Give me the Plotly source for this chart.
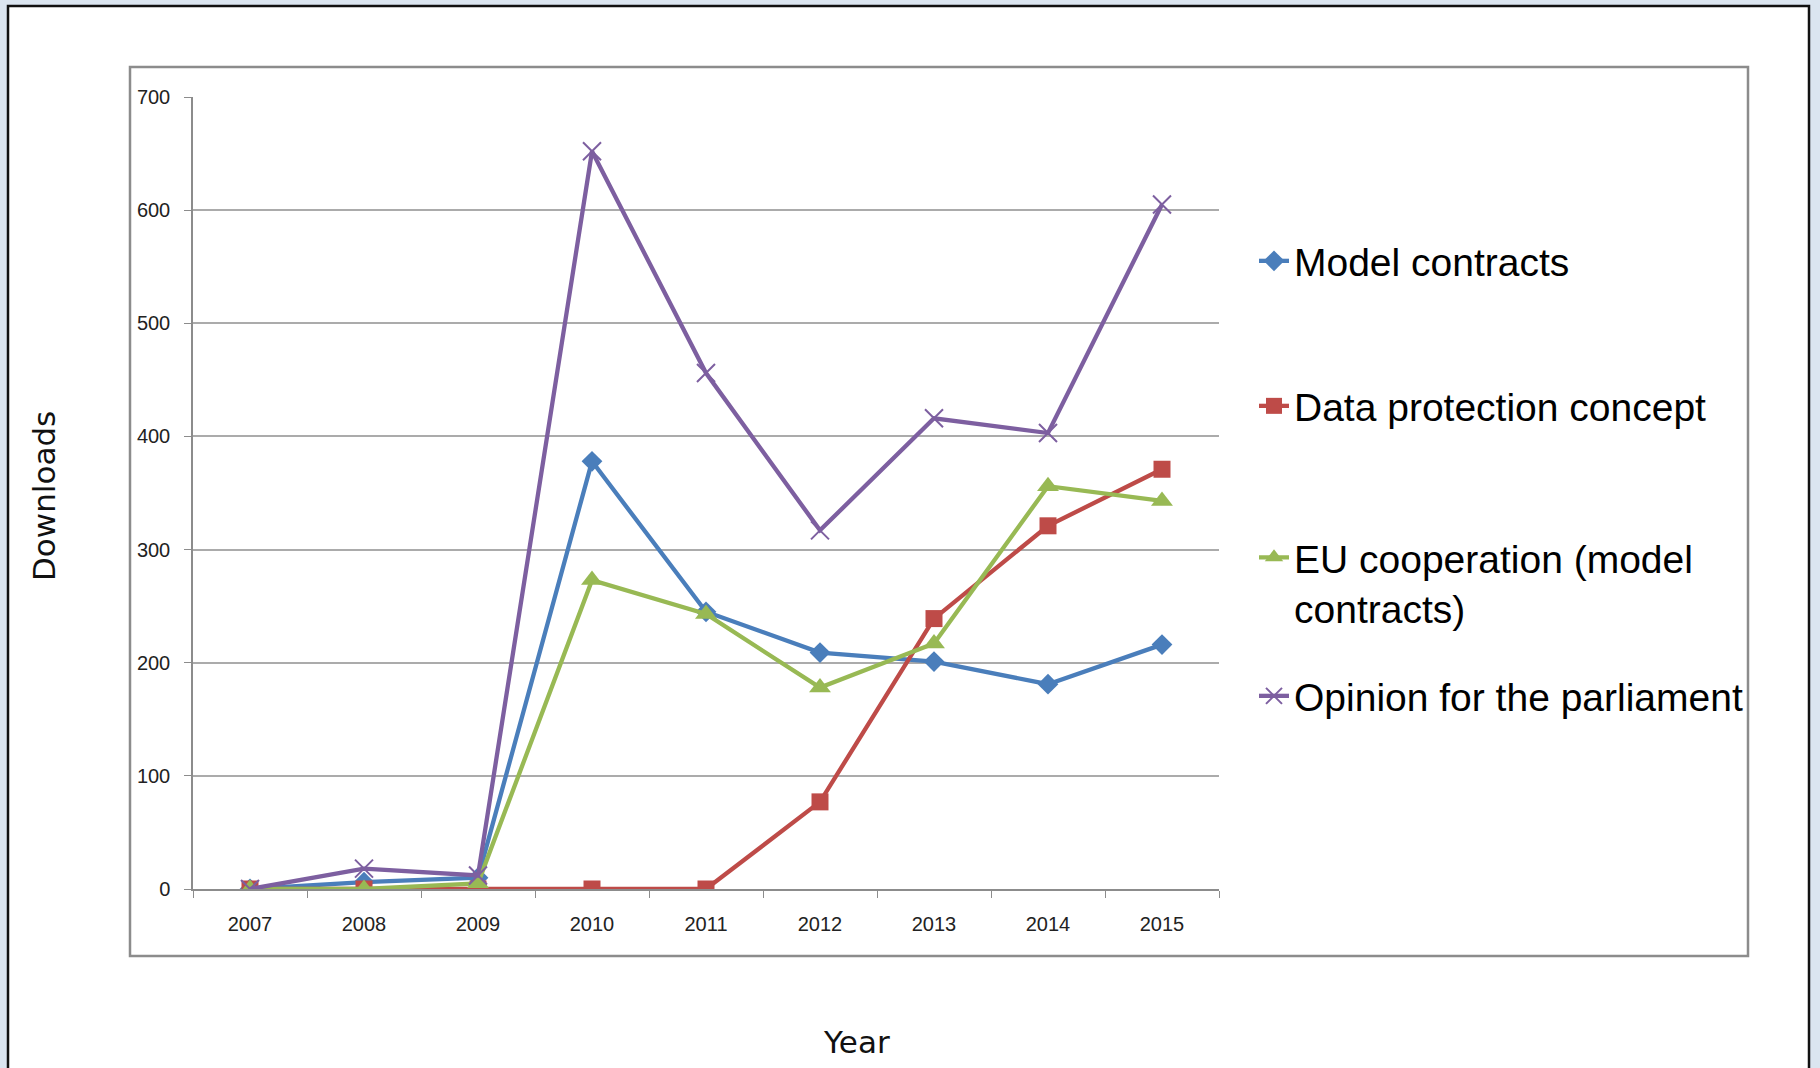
"""
Downloads per year, four documents.
Excel-style line chart rebuilt with Plotly.
"""

import plotly.graph_objects as go


# =========================================================
# Data
# =========================================================

years = ["2007", "2008", "2009", "2010", "2011", "2012", "2013", "2014", "2015"]

model_contracts = [0, 6, 10, 378, 245, 209, 201, 181, 216]
data_protection = [0, 0, 0, 0, 0, 77, 239, 321, 371]
eu_cooperation = [0, 0, 5, 273, 243, 178, 217, 356, 343]
opinion_parliament = [0, 18, 12, 652, 456, 317, 416, 403, 605]

series_names = [
    "Model contracts",
    "Data protection concept",
    "EU cooperation (model<br>contracts)",
    "Opinion for the parliament"
]

y_ticks = [0, 100, 200, 300, 400, 500, 600, 700]


# =========================================================
# Page geometry (pixels of the 1820 x 1068 page)
# =========================================================

W, H = 1820, 1068

BLUE = "#4A7EBB"
RED = "#BE4B48"
GREEN = "#98B954"
PURPLE = "#7D5FA0"
BG = "#DBE5F0"

FONT = "Liberation Sans, Arial, sans-serif"


def px_x(x):
    return x / W


def px_y(y):
    return 1 - y / H


# =========================================================
# Figure
# =========================================================

fig = go.Figure()

styles = [
    (model_contracts, BLUE, dict(symbol="diamond", size=16, color=BLUE), "legend"),
    (data_protection, RED, dict(symbol="square", size=17, color=RED), "legend2"),
    (eu_cooperation, GREEN, dict(symbol="triangle-up", size=19, color=GREEN), "legend3"),
    (opinion_parliament, PURPLE,
     dict(symbol="x-thin", size=18, color=PURPLE, line=dict(color=PURPLE, width=2)),
     "legend4"),
]

for name, (values, color, marker, legend) in zip(series_names, styles):
    fig.add_trace(go.Scatter(
        x=years,
        y=values,
        name=name,
        mode="lines+markers",
        line=dict(color=color, width=4.3),
        marker=marker,
        legend=legend
    ))


# Outer white panel + grey chart-area border
fig.add_shape(
    type="rect", xref="paper", yref="paper", layer="below",
    x0=px_x(8), x1=px_x(1809), y0=px_y(6), y1=px_y(1080),
    fillcolor="white", line=dict(color="#111111", width=2.5)
)
fig.add_shape(
    type="rect", xref="paper", yref="paper", layer="below",
    x0=px_x(130), x1=px_x(1748), y0=px_y(67), y1=px_y(956),
    fillcolor="white", line=dict(color="#8C8C8C", width=2.5)
)

# Axis titles sit outside the chart-area border
fig.add_annotation(
    text="Downloads", xref="paper", yref="paper",
    x=px_x(44), y=px_y(496), xanchor="center", yanchor="middle",
    showarrow=False, textangle=-90,
    font=dict(family="DejaVu Sans", size=31, color="#111111")
)
fig.add_annotation(
    text="Year", xref="paper", yref="paper",
    x=px_x(856), y=px_y(1042), xanchor="center", yanchor="middle",
    showarrow=False,
    font=dict(family="DejaVu Sans", size=31, color="#111111")
)


def legend_box(y, valign="middle"):
    return dict(
        x=px_x(1254), y=px_y(y), xanchor="left", yanchor="middle",
        bgcolor="rgba(0,0,0,0)", borderwidth=0,
        font=dict(family=FONT, size=39, color="black"),
        itemwidth=30, valign=valign
    )


fig.update_layout(
    width=W,
    height=H,
    margin=dict(l=0, r=0, t=0, b=0, autoexpand=False),
    paper_bgcolor=BG,
    plot_bgcolor="white",
    showlegend=True,
    legend=legend_box(261),
    legend2=legend_box(406),
    legend3=legend_box(583, valign="top"),
    legend4=legend_box(696),
    xaxis=dict(
        domain=[px_x(193), px_x(1219)],
        type="category",
        range=[-0.5, len(years) - 0.5],
        tickson="boundaries",
        ticks="outside",
        ticklen=7,
        tickcolor="#8C8C8C",
        showline=True,
        linecolor="#8C8C8C",
        linewidth=1.5,
        showgrid=False,
        zeroline=False,
        ticklabelstandoff=16,
        tickfont=dict(family=FONT, size=20, color="#222222")
    ),
    yaxis=dict(
        domain=[px_y(889), px_y(97)],
        range=[0, 700],
        tickvals=y_ticks,
        ticks="outside",
        ticklen=7,
        tickcolor="#8C8C8C",
        showline=True,
        linecolor="#8C8C8C",
        linewidth=1.5,
        showgrid=True,
        gridcolor="#ABABAB",
        gridwidth=1.5,
        zeroline=False,
        ticklabelstandoff=10,
        tickfont=dict(family=FONT, size=20, color="#222222")
    )
)

# drop the browser's default 8px body margin so the figure fills the window
fig.write_html(
    "out.html",
    config={"displayModeBar": False},
    post_script="document.body.style.margin='0';"
                "document.body.style.background='" + BG + "';"
)
